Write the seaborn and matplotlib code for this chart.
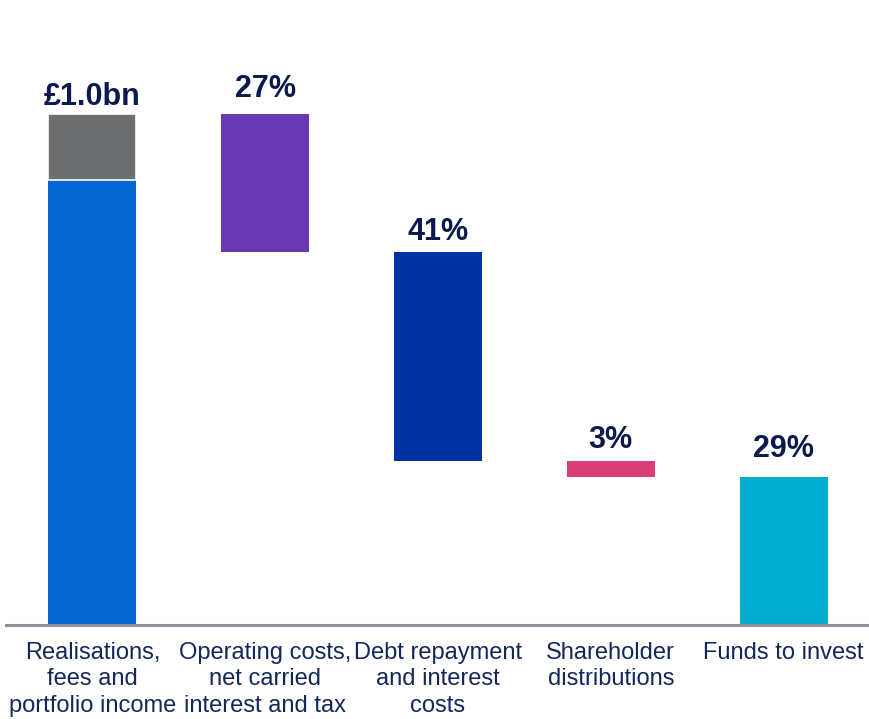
import matplotlib
matplotlib.use("Agg")
import matplotlib.pyplot as plt
import seaborn as sns
import pandas as pd

# chart data
categories = [
    "Realisations,\nfees and\nportfolio income",
    "Operating costs,\nnet carried\ninterest and tax",
    "Debt repayment\nand interest\ncosts",
    "Shareholder\ndistributions",
    "Funds to invest",
]
total_bn = 1.0
realisations_share = 0.87   # blue part of the first bar
other_share = 0.13          # grey part of the first bar
outflow_pct = [27, 41, 3, 29]
value_labels = ["£1.0bn", "27%", "41%", "3%", "29%"]
bar_colors = ["#0366d0", "#673ab4", "#0033a1", "#d93e7b", "#00acd0"]

# waterfall heights / bottoms
heights = [realisations_share * total_bn]
bottoms = [0.0]
tops = [total_bn]
level = total_bn
for p in outflow_pct[:-1]:
    h = p / 100 * total_bn
    level -= h
    heights.append(h)
    bottoms.append(level)
    tops.append(level + h)
heights.append(outflow_pct[-1] / 100 * total_bn)
bottoms.append(0.0)
tops.append(heights[-1])

df = pd.DataFrame({"category": categories, "height": heights, "bottom": bottoms})

sns.set_style("white")
plt.rcParams["font.family"] = ["Liberation Sans", "DejaVu Sans"]

fig = plt.figure(figsize=(8.7, 7.19), dpi=100)
ax = fig.add_axes([0.0069, 0.1307, 0.9931, 0.8693])

sns.barplot(data=df, x="category", y="height", bottom=df["bottom"].values,
            order=categories, width=0.51, color=bar_colors[0], ax=ax,
            edgecolor="none", linewidth=0)
for patch, c in zip(ax.patches, bar_colors):
    patch.set_facecolor(c)

# grey segment on top of the first bar
sns.barplot(x=[categories[0]], y=[other_share * total_bn],
            bottom=realisations_share * total_bn, order=categories,
            width=0.51, color="#6b6e70", ax=ax, edgecolor="white", linewidth=1.2)

# value labels above each bar (gap in points)
label_color = "#0b1a4e"
label_gap = [6.5, 12, 8.5, 9.5, 14]
for i, (lab, top) in enumerate(zip(value_labels, tops)):
    ax.annotate(lab, (i, top), xytext=(0, label_gap[i]), textcoords="offset points",
                ha="center", va="baseline", fontsize=22, fontweight="bold",
                color=label_color)

ax.set_xlim(-0.5, 4.5)
ax.set_ylim(0, 1.223)
ax.set_xlabel("")
ax.set_ylabel("")
ax.set_yticks([])
ax.tick_params(axis="x", length=0, pad=12, labelsize=17, labelcolor="#14275a")
for t in ax.get_xticklabels():
    t.set_linespacing(1.26)
for s in ["top", "right", "left"]:
    ax.spines[s].set_visible(False)
ax.spines["bottom"].set_color("#8e8e96")
ax.spines["bottom"].set_linewidth(2.2)

fig.savefig("out.png", dpi=100)
